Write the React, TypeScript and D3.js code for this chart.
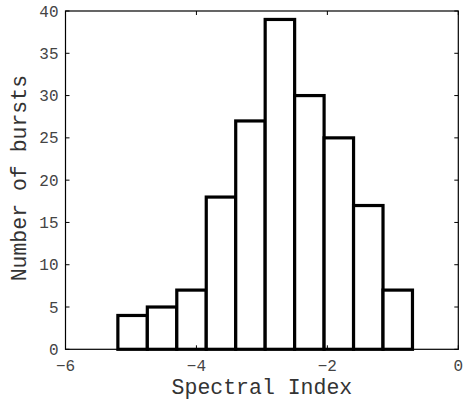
import React from "react";
import * as d3 from "d3";

// Histogram of burst spectral indices: bin edges and counts
const binStart = -5.2;
const binWidth = 0.45;
const counts = [4, 5, 7, 18, 27, 39, 30, 25, 17, 7];
const xTicks = [-6, -4, -2, 0];
const yTicks = [0, 5, 10, 15, 20, 25, 30, 35, 40];
const xLabel = "Spectral Index";
const yLabel = "Number of bursts";

const W = 466;
const H = 402;
const margin = { left: 65.5, right: 7.7, top: 11, bottom: 52.7 };
const FONT = "'Liberation Mono', 'DejaVu Sans Mono', monospace";

export default function App() {
  const x = d3
    .scaleLinear()
    .domain([-6, 0])
    .range([margin.left, W - margin.right]);
  const y = d3
    .scaleLinear()
    .domain([0, 40])
    .range([H - margin.bottom, margin.top]);

  const bins = counts.map((c, i) => ({
    x0: binStart + i * binWidth,
    x1: binStart + (i + 1) * binWidth,
    count: c,
  }));

  const x0 = x.range()[0];
  const x1 = x.range()[1];
  const y0 = y.range()[0];
  const y1 = y.range()[1];
  const tickLen = 4;

  return (
    <svg
      width={W}
      height={H}
      style={{ position: "absolute", left: 0, top: 0, background: "#fff" }}
    >
      {/* bars */}
      {bins.map((b, i) => (
        <rect
          key={i}
          x={x(b.x0)}
          y={y(b.count)}
          width={x(b.x1) - x(b.x0)}
          height={y(0) - y(b.count)}
          fill="#fff"
          stroke="#000"
          strokeWidth={3.2}
        />
      ))}

      {/* frame */}
      <rect
        x={x0}
        y={y1}
        width={x1 - x0}
        height={y0 - y1}
        fill="none"
        stroke="#000"
        strokeWidth={1.2}
      />

      {/* x ticks */}
      {xTicks.map((t) => (
        <g key={"x" + t}>
          <line x1={x(t)} x2={x(t)} y1={y0} y2={y0 - tickLen} stroke="#000" />
          <line x1={x(t)} x2={x(t)} y1={y1} y2={y1 + tickLen} stroke="#000" />
          <text
            x={x(t)}
            y={y0 + 22}
            textAnchor="middle"
            fontFamily={FONT}
            fontSize={16}
            fill="#444"
          >
            {t < 0 ? "\u2212" + Math.abs(t) : String(t)}
          </text>
        </g>
      ))}

      {/* y ticks */}
      {yTicks.map((t) => (
        <g key={"y" + t}>
          <line x1={x0} x2={x0 + tickLen} y1={y(t)} y2={y(t)} stroke="#000" />
          <line x1={x1} x2={x1 - tickLen} y1={y(t)} y2={y(t)} stroke="#000" />
          <text
            x={x0 - 7}
            y={y(t)}
            dy="0.35em"
            textAnchor="end"
            fontFamily={FONT}
            fontSize={16}
            fill="#444"
          >
            {t}
          </text>
        </g>
      ))}

      {/* axis titles */}
      <text
        x={(x0 + x1) / 2}
        y={H - 8}
        textAnchor="middle"
        fontFamily={FONT}
        fontSize={21.5}
        fill="#333"
      >
        {xLabel}
      </text>
      <text
        transform={`translate(26, ${(y0 + y1) / 2 - 2}) rotate(-90)`}
        textAnchor="middle"
        fontFamily={FONT}
        fontSize={21.5}
        fill="#333"
      >
        {yLabel}
      </text>
    </svg>
  );
}
